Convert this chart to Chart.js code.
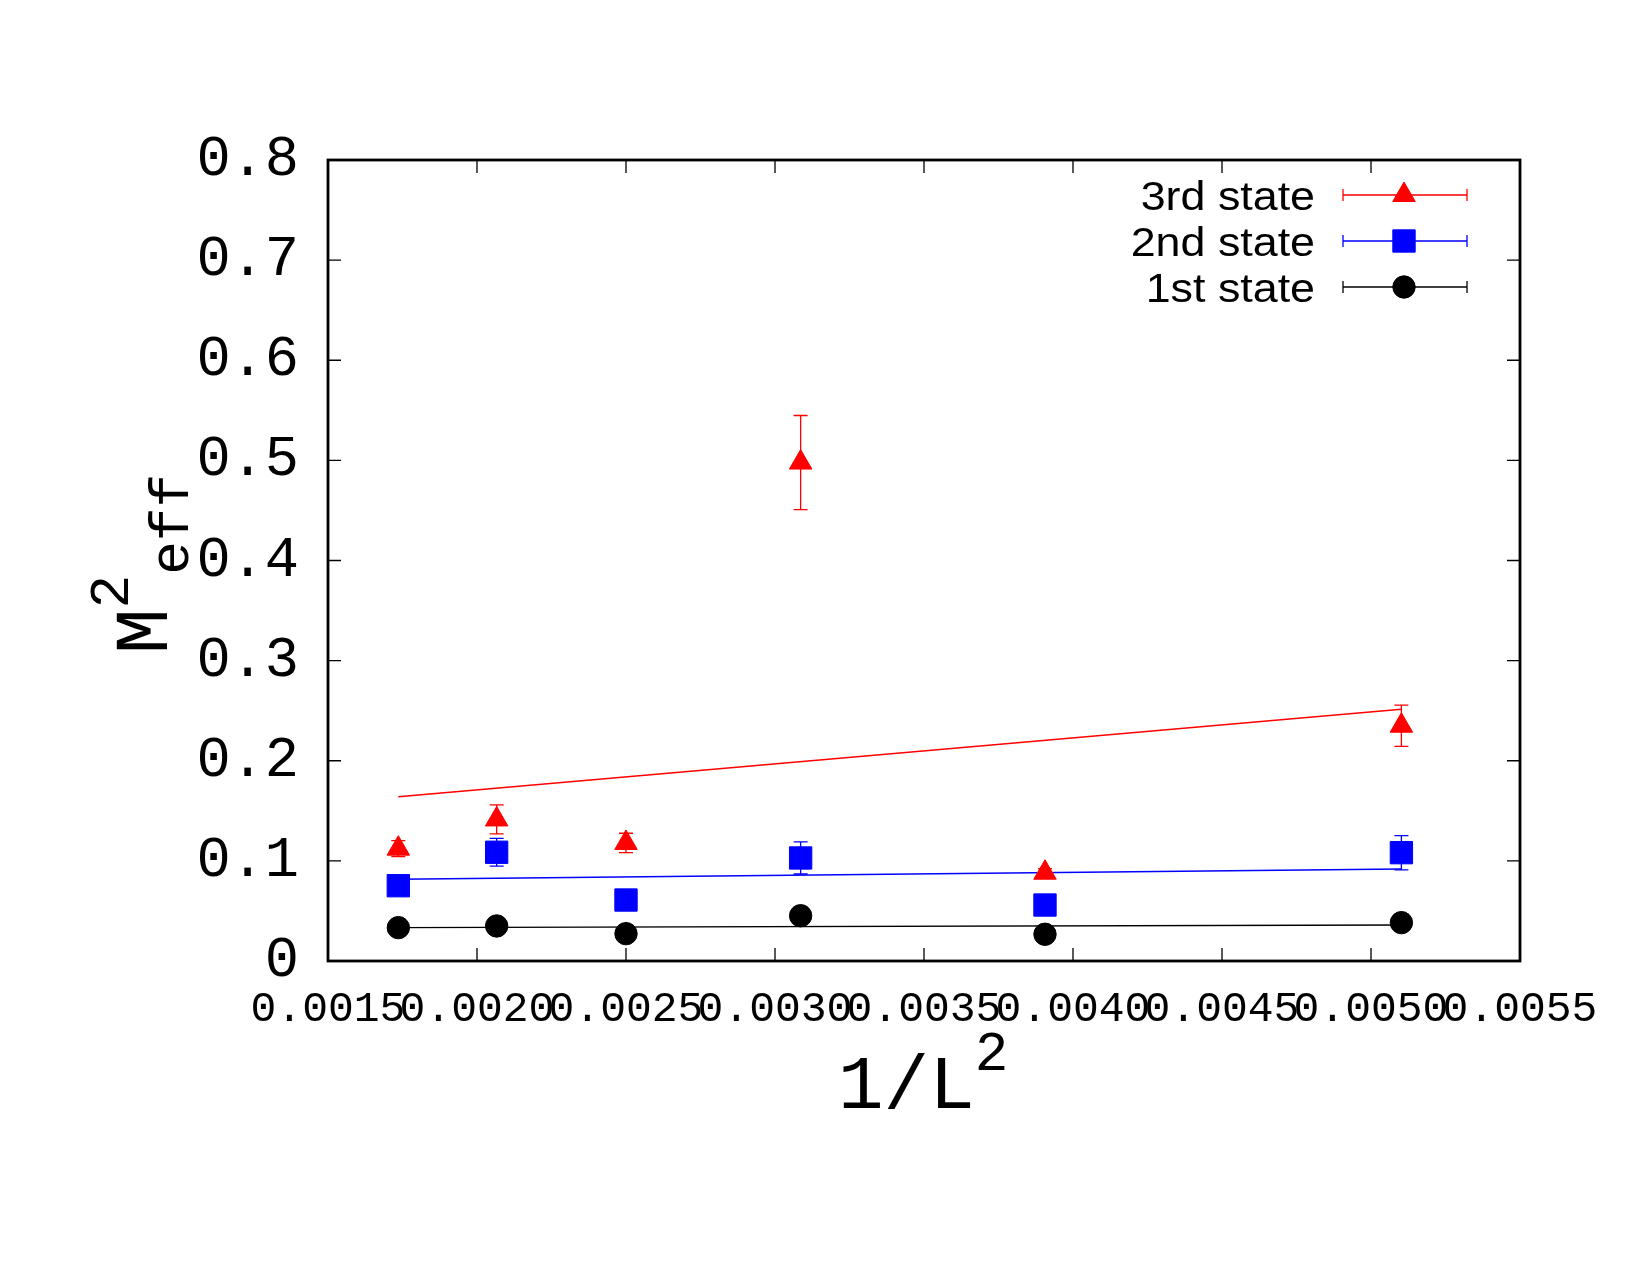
<!DOCTYPE html>
<html>
<head>
<meta charset="utf-8">
<script src="https://cdn.jsdelivr.net/npm/chart.js@4.4.1/dist/chart.umd.min.js"></script>
<style>
html,body{margin:0;padding:0;background:#ffffff;}
#wrap{width:1650px;height:1275px;position:relative;}
canvas{display:block;}
</style>
</head>
<body>
<div id="wrap"><canvas id="c" width="1650" height="1275"></canvas></div>
<script>
// ---- data ----
const invL2 = [0.001736, 0.002066, 0.0025, 0.003086, 0.003906, 0.005102];
const state3 = [0.1122, 0.1414, 0.1179, 0.4978, 0.0882, 0.2350];
const state3Err = [0.008, 0.0145, 0.0097, 0.047, 0.004, 0.0206];
const state2 = [0.0752, 0.1086, 0.0609, 0.1029, 0.0559, 0.1082];
const state2Err = [0.004, 0.0138, 0.005, 0.016, 0.004, 0.0171];
const state1 = [0.0333, 0.0350, 0.0273, 0.0452, 0.0267, 0.0383];
const state1Err = [0.002, 0.002, 0.002, 0.003, 0.002, 0.002];
const fitX = [0.001736, 0.005102];
const fit3 = [0.1641, 0.2514];
const fit2 = [0.0816, 0.0919];
const fit1 = [0.0333, 0.0360];
const seriesLabels = ['3rd state', '2nd state', '1st state'];
const xTickValues = [0.0015, 0.0020, 0.0025, 0.0030, 0.0035, 0.0040, 0.0045, 0.0050, 0.0055];
const xTickLabels = ['0.0015', '0.0020', '0.0025', '0.0030', '0.0035', '0.0040', '0.0045', '0.0050', '0.0055'];
const yTickValues = [0, 0.1, 0.2, 0.3, 0.4, 0.5, 0.6, 0.7, 0.8];
const yTickLabels = ['0', '0.1', '0.2', '0.3', '0.4', '0.5', '0.6', '0.7', '0.8'];

const MONO = "'Liberation Mono', 'DejaVu Sans Mono', monospace";
const SANS = "'Liberation Sans', Arial, sans-serif";

function pts(xs, ys) { return xs.map((x, i) => ({ x: x, y: ys[i] })); }

const markerStyles = [
  { pointStyle: 'triangle', radius: 13, color: '#ff0000' },
  { pointStyle: 'rect', radius: 15.8, color: '#0000ff' },
  { pointStyle: 'circle', radius: 11.2, color: '#000000' }
];

const pointSets = [
  { label: seriesLabels[0], data: pts(invL2, state3), errors: state3Err, st: markerStyles[0] },
  { label: seriesLabels[1], data: pts(invL2, state2), errors: state2Err, st: markerStyles[1] },
  { label: seriesLabels[2], data: pts(invL2, state1), errors: state1Err, st: markerStyles[2] }
];
const fitSets = [
  { data: pts(fitX, fit3), color: '#ff0000' },
  { data: pts(fitX, fit2), color: '#0000ff' },
  { data: pts(fitX, fit1), color: '#000000' }
];

const datasets = [];
pointSets.forEach((p, i) => {
  datasets.push({
    label: p.label,
    data: p.data,
    errors: p.errors,
    isPoints: true,
    showLine: false,
    pointStyle: p.st.pointStyle,
    pointRadius: p.st.radius,
    pointHoverRadius: p.st.radius,
    pointBackgroundColor: p.st.color,
    pointBorderColor: p.st.color,
    pointBorderWidth: 1,
    borderColor: p.st.color,
    backgroundColor: p.st.color
  });
  datasets.push({
    label: p.label + ' fit',
    data: fitSets[i].data,
    showLine: true,
    pointRadius: 0,
    borderColor: fitSets[i].color,
    borderWidth: 1.4,
    fill: false,
    tension: 0
  });
});

const errorBarPlugin = {
  id: 'errorBars',
  beforeDatasetsDraw(chart) {
    const ctx = chart.ctx, xs = chart.scales.x, ys = chart.scales.y;
    ctx.save();
    chart.data.datasets.forEach((ds) => {
      if (!ds.isPoints) return;
      ctx.strokeStyle = ds.borderColor;
      ctx.lineWidth = 1.3;
      ds.data.forEach((p, j) => {
        const e = ds.errors[j];
        const px = xs.getPixelForValue(p.x);
        const y1 = ys.getPixelForValue(p.y + e);
        const y2 = ys.getPixelForValue(p.y - e);
        ctx.beginPath();
        ctx.moveTo(px, y1); ctx.lineTo(px, y2);
        ctx.moveTo(px - 7, y1); ctx.lineTo(px + 7, y1);
        ctx.moveTo(px - 7, y2); ctx.lineTo(px + 7, y2);
        ctx.stroke();
      });
    });
    ctx.restore();
  }
};

const framePlugin = {
  id: 'frame',
  afterDatasetsDraw(chart) {
    const ctx = chart.ctx, a = chart.chartArea, xs = chart.scales.x, ys = chart.scales.y;
    ctx.save();
    ctx.strokeStyle = '#000';
    ctx.lineWidth = 1.3;
    ctx.beginPath();
    xTickValues.forEach(v => {
      const px = xs.getPixelForValue(v);
      ctx.moveTo(px, a.bottom); ctx.lineTo(px, a.bottom - 13);
      ctx.moveTo(px, a.top); ctx.lineTo(px, a.top + 13);
    });
    yTickValues.forEach(v => {
      const py = ys.getPixelForValue(v);
      ctx.moveTo(a.left, py); ctx.lineTo(a.left + 13, py);
      ctx.moveTo(a.right, py); ctx.lineTo(a.right - 13, py);
    });
    ctx.stroke();
    ctx.lineWidth = 2.8;
    ctx.strokeRect(a.left, a.top, a.right - a.left, a.bottom - a.top);
    ctx.restore();
  }
};

const legendPlugin = {
  id: 'gpLegend',
  afterDraw(chart) {
    const ctx = chart.ctx;
    const rowsY = [195, 241, 287];
    const textRight = 1315, lineL = 1343, lineR = 1467, markX = 1404;
    ctx.save();
    pointSets.forEach((p, i) => {
      const y = rowsY[i];
      ctx.save();
      ctx.translate(textRight, y + 14.5);
      ctx.scale(1.12, 1);
      ctx.font = '40px ' + SANS;
      ctx.fillStyle = '#000';
      ctx.textAlign = 'right';
      ctx.textBaseline = 'alphabetic';
      ctx.fillText(p.label, 0, 0);
      ctx.restore();
      ctx.strokeStyle = p.st.color;
      ctx.lineWidth = 1.3;
      ctx.beginPath();
      ctx.moveTo(lineL, y); ctx.lineTo(lineR, y);
      ctx.moveTo(lineL, y - 6); ctx.lineTo(lineL, y + 6);
      ctx.moveTo(lineR, y - 6); ctx.lineTo(lineR, y + 6);
      ctx.stroke();
      ctx.fillStyle = p.st.color;
      ctx.strokeStyle = p.st.color;
      ctx.lineWidth = 1;
      Chart.helpers.drawPoint(ctx, { pointStyle: p.st.pointStyle, radius: p.st.radius, rotation: 0, borderWidth: 1 }, markX, y);
    });
    ctx.restore();
  }
};

const titlePlugin = {
  id: 'axisTitles',
  afterDraw(chart) {
    const ctx = chart.ctx;
    ctx.save();
    ctx.fillStyle = '#000';
    ctx.textBaseline = 'alphabetic';
    ctx.textAlign = 'left';
    // x title: 1/L^2
    ctx.font = '76px ' + MONO;
    const main = '1/L';
    const wMain = ctx.measureText(main).width;
    const x0 = 838, base = 1108;
    ctx.fillText(main, x0, base);
    ctx.font = '56px ' + MONO;
    ctx.fillText('2', x0 + wMain, base - 38);
    // y title: M^2_eff, rotated
    ctx.save();
    ctx.translate(167, 654);
    ctx.rotate(-Math.PI / 2);
    ctx.font = '76px ' + MONO;
    ctx.fillText('M', 0, 0);
    const wM = ctx.measureText('M').width;
    ctx.font = '56px ' + MONO;
    ctx.fillText('2', wM, -39);
    const w2 = ctx.measureText('2').width;
    ctx.fillText('eff', wM + w2, 21);
    ctx.restore();
    ctx.restore();
  }
};

new Chart(document.getElementById('c').getContext('2d'), {
  type: 'scatter',
  data: { datasets: datasets },
  plugins: [errorBarPlugin, framePlugin, legendPlugin, titlePlugin],
  options: {
    responsive: false,
    animation: false,
    devicePixelRatio: 1,
    layout: { padding: { top: 160, right: 130, left: 0, bottom: 0 } },
    plugins: { legend: { display: false }, tooltip: { enabled: false }, title: { display: false } },
    scales: {
      x: {
        type: 'linear',
        min: 0.0015,
        max: 0.0055,
        afterBuildTicks(scale) { scale.ticks = xTickValues.map(v => ({ value: v })); },
        afterFit(scale) { scale.height = 314; },
        grid: { display: false, drawTicks: false },
        border: { display: false },
        ticks: {
          autoSkip: false,
          maxRotation: 0,
          minRotation: 0,
          padding: 23,
          color: '#000',
          font: { family: MONO, size: 43 },
          callback: (v, i) => xTickLabels[i]
        }
      },
      y: {
        type: 'linear',
        min: 0,
        max: 0.8,
        afterBuildTicks(scale) { scale.ticks = yTickValues.map(v => ({ value: v })); },
        afterFit(scale) { scale.width = 328; },
        grid: { display: false, drawTicks: false },
        border: { display: false },
        ticks: {
          autoSkip: false,
          padding: 29,
          color: '#000',
          font: { family: MONO, size: 57 },
          callback: (v, i) => yTickLabels[i]
        }
      }
    }
  }
});
</script>
</body>
</html>
